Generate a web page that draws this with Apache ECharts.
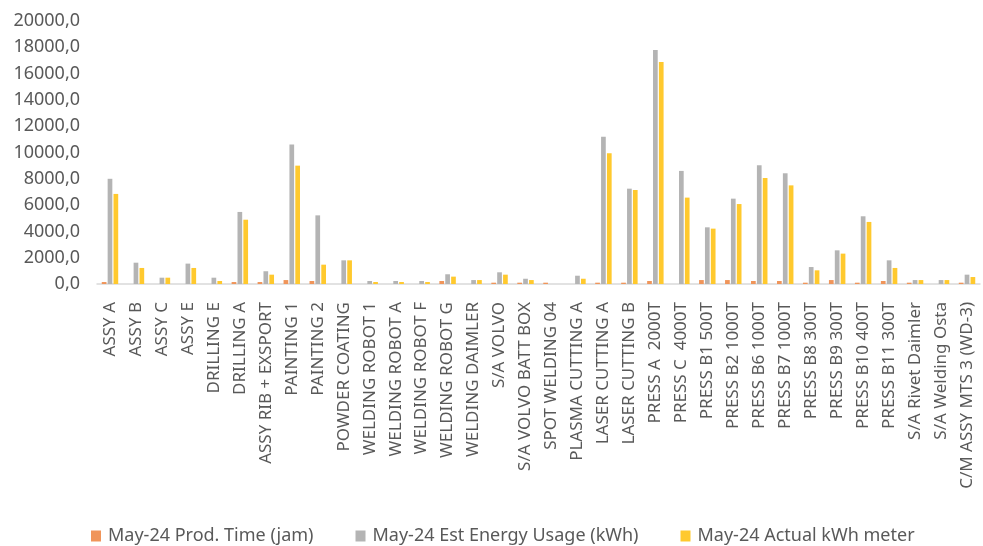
<!DOCTYPE html>
<html>
<head>
<meta charset="utf-8">
<script src="https://cdn.jsdelivr.net/npm/echarts@6/dist/echarts.min.js"></script>
<style>
  html, body { margin: 0; padding: 0; background: #fff; }
  #chart { width: 983px; height: 546px; }
</style>
</head>
<body>
<div id="chart"></div>
<script>
// Production lines / machines
const categories = [
  'ASSY A', 'ASSY B', 'ASSY C', 'ASSY E', 'DRILLING E', 'DRILLING A',
  'ASSY RIB + EXSPORT', 'PAINTING 1', 'PAINTING 2', 'POWDER COATING',
  'WELDING ROBOT 1', 'WELDING ROBOT A', 'WELDING ROBOT F', 'WELDING ROBOT G',
  'WELDING DAIMLER', 'S/A VOLVO', 'S/A VOLVO BATT BOX', 'SPOT WELDING 04',
  'PLASMA CUTTING A', 'LASER CUTTING A', 'LASER CUTTING B', 'PRESS A  2000T',
  'PRESS C  4000T', 'PRESS B1 500T', 'PRESS B2 1000T', 'PRESS B6 1000T',
  'PRESS B7 1000T', 'PRESS B8 300T', 'PRESS B9 300T', 'PRESS B10 400T',
  'PRESS B11 300T', 'S/A Rivet Daimler', 'S/A Welding Osta', 'C/M ASSY MTS 3 (WD-3)'
];

// May-24 production time (hours)
const prodTime = [
  150, 0, 0, 0, 0, 150,
  150, 300, 230, 0,
  0, 0, 0, 230,
  0, 100, 100, 100,
  0, 100, 100, 230,
  0, 300, 300, 230,
  230, 100, 300, 100,
  230, 100, 0, 100
];

// May-24 estimated energy usage (kWh)
const estEnergy = [
  8000, 1620, 480, 1550, 480, 5480,
  970, 10600, 5220, 1800,
  230, 230, 230, 740,
  300, 890, 400, 0,
  630, 11200, 7250, 17800,
  8600, 4310, 6490, 9030,
  8420, 1290, 2560, 5150,
  1800, 300, 300, 710
];

// May-24 actual kWh meter reading
const actualKwh = [
  6850, 1220, 480, 1220, 230, 4890,
  710, 9000, 1470, 1800,
  150, 150, 150, 560,
  300, 710, 300, 0,
  400, 9940, 7150, 16880,
  6570, 4210, 6080, 8060,
  7500, 1040, 2310, 4720,
  1220, 300, 300, 530
];

const yMin = 0, yMax = 20000, yStep = 2000;

const seriesNames = [
  'May-24 Prod. Time (jam)',
  'May-24 Est Energy Usage (kWh)',
  'May-24 Actual kWh meter'
];
const seriesColors = ['#F0955A', '#B4B4B4', '#FFC92E'];
const seriesData = [prodTime, estEnergy, actualKwh];

const FONT = '"Noto Sans", "Open Sans", sans-serif';

const chart = echarts.init(document.getElementById('chart'), null, { renderer: 'canvas' });

chart.setOption({
  animation: false,
  backgroundColor: '#ffffff',
  textStyle: { fontFamily: FONT },
  grid: { left: 97, right: 3, top: 21, bottom: 262, containLabel: false },
  legend: {
    bottom: -4,
    left: 86,
    itemWidth: 10,
    itemHeight: 11,
    itemGap: 42,
    icon: 'rect',
    textStyle: { color: '#595959', fontSize: 18, fontFamily: FONT, padding: [0, 0, 0, 2] },
    data: seriesNames
  },
  xAxis: {
    type: 'category',
    data: categories,
    boundaryGap: true,
    axisLine: { show: true, lineStyle: { color: '#D9D9D9', width: 1.5 } },
    axisTick: { show: false },
    axisLabel: {
      rotate: 90,
      interval: 0,
      margin: 18,
      color: '#595959',
      fontSize: 17,
      fontFamily: FONT
    }
  },
  yAxis: {
    type: 'value',
    min: yMin,
    max: yMax,
    interval: yStep,
    splitLine: { show: false },
    axisLine: { show: false },
    axisTick: { show: false },
    axisLabel: {
      margin: 17,
      color: '#595959',
      fontSize: 18,
      fontFamily: FONT,
      formatter: v => v.toFixed(1).replace('.', ',')
    }
  },
  series: seriesNames.map((name, i) => ({
    name,
    type: 'bar',
    data: seriesData[i],
    barWidth: 4.7,
    barGap: '25%',
    itemStyle: { color: seriesColors[i] }
  }))
});
</script>
</body>
</html>
